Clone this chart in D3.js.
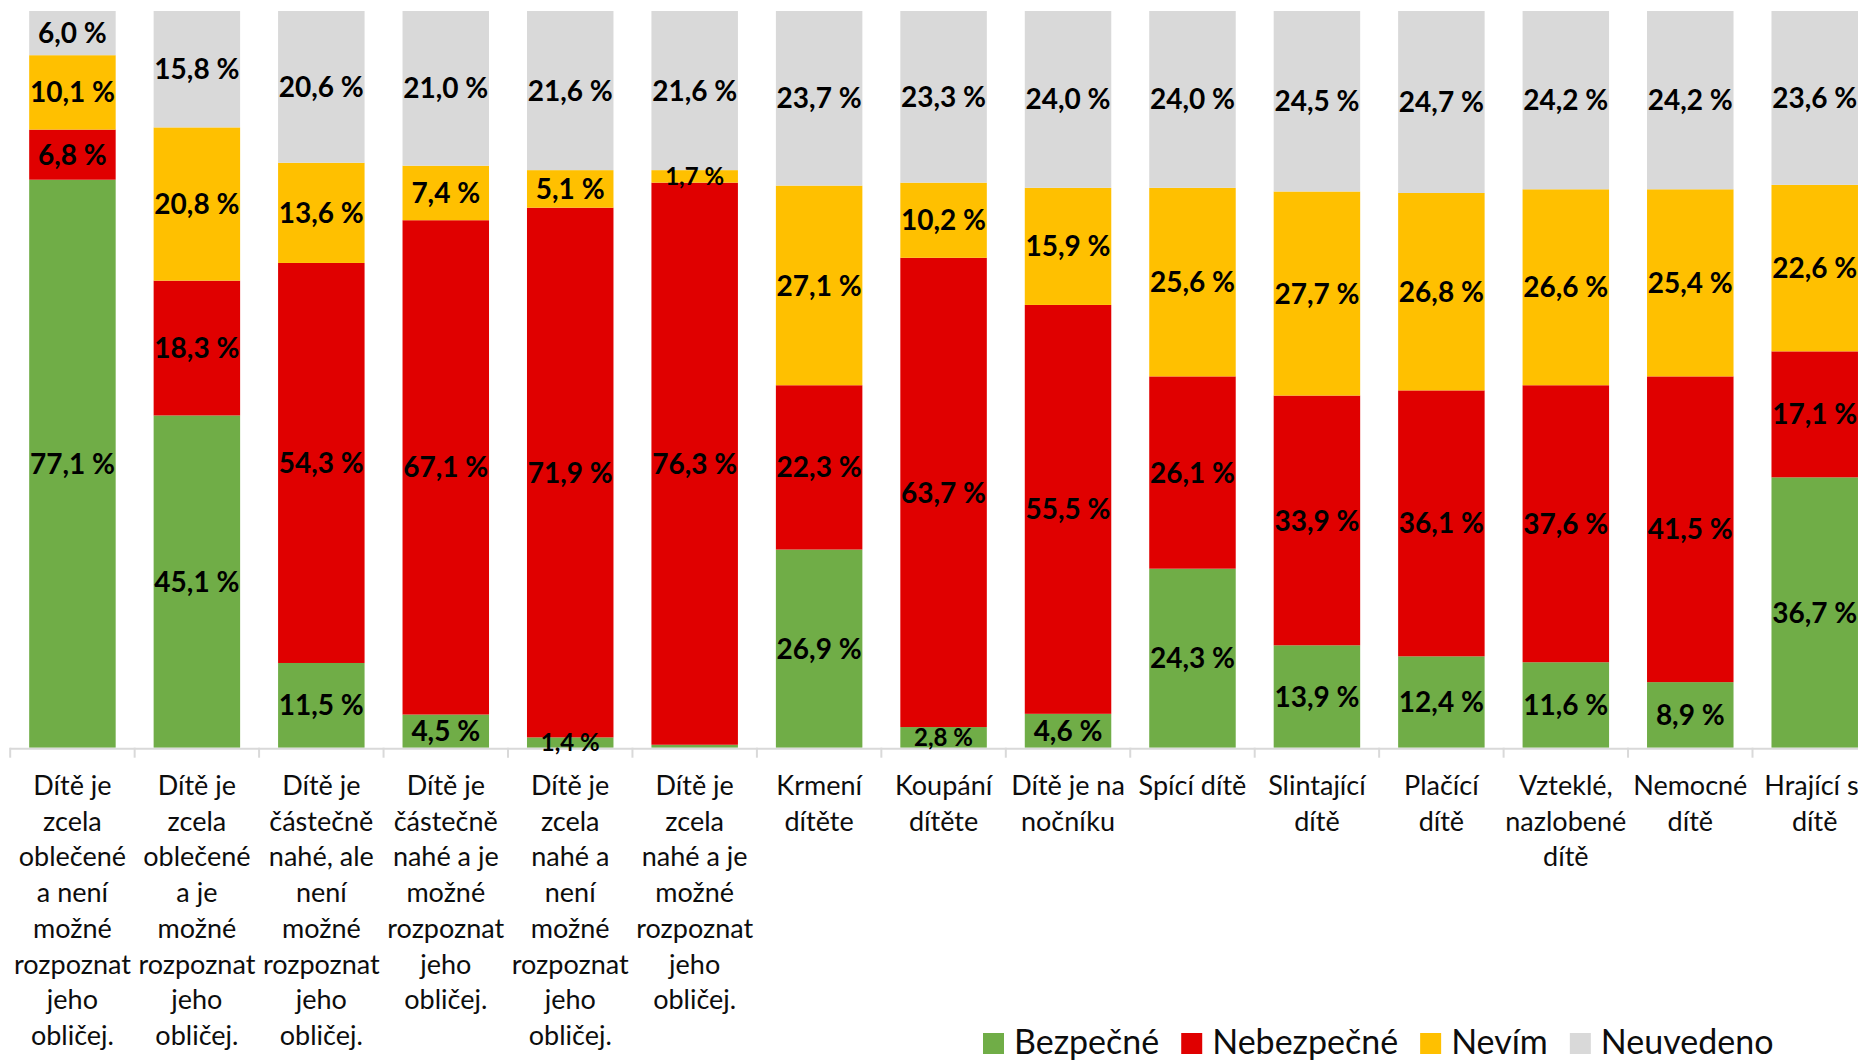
<!DOCTYPE html>
<html lang="cs">
<head>
    <meta charset="UTF-8">
    <title>Bezpečnost fotografií dětí</title>
    <script src="https://cdn.jsdelivr.net/npm/d3@7"></script>
    <style>
        html, body {
            margin: 0;
            padding: 0;
            width: 100%;
            height: 100%;
            overflow: hidden;
            background: #fff;
        }
        text { font-family: Lato, "Open Sans", sans-serif; }
    </style>
</head>
<body>
</body>
<script>
    let width = 1858;
    let height = 1061;

    // kategorie (řádky popisků jsou zalomené jako v originále)
    let categories = [
        ['Dítě je', 'zcela', 'oblečené', 'a není', 'možné', 'rozpoznat', 'jeho', 'obličej.'],
        ['Dítě je', 'zcela', 'oblečené', 'a je', 'možné', 'rozpoznat', 'jeho', 'obličej.'],
        ['Dítě je', 'částečně', 'nahé, ale', 'není', 'možné', 'rozpoznat', 'jeho', 'obličej.'],
        ['Dítě je', 'částečně', 'nahé a je', 'možné', 'rozpoznat', 'jeho', 'obličej.'],
        ['Dítě je', 'zcela', 'nahé a', 'není', 'možné', 'rozpoznat', 'jeho', 'obličej.'],
        ['Dítě je', 'zcela', 'nahé a je', 'možné', 'rozpoznat', 'jeho', 'obličej.'],
        ['Krmení', 'dítěte'],
        ['Koupání', 'dítěte'],
        ['Dítě je na', 'nočníku'],
        ['Spící dítě'],
        ['Slintající', 'dítě'],
        ['Plačící', 'dítě'],
        ['Vzteklé,', 'nazlobené', 'dítě'],
        ['Nemocné', 'dítě'],
        ['Hrající si', 'dítě']
    ];

    let seriesNames = ['Bezpečné', 'Nebezpečné', 'Nevím', 'Neuvedeno'];
    let bezpecne   = [77.1, 45.1, 11.5, 4.5, 1.4, 0.4, 26.9, 2.8, 4.6, 24.3, 13.9, 12.4, 11.6, 8.9, 36.7];
    let nebezpecne = [6.8, 18.3, 54.3, 67.1, 71.9, 76.3, 22.3, 63.7, 55.5, 26.1, 33.9, 36.1, 37.6, 41.5, 17.1];
    let nevim      = [10.1, 20.8, 13.6, 7.4, 5.1, 1.7, 27.1, 10.2, 15.9, 25.6, 27.7, 26.8, 26.6, 25.4, 22.6];
    let neuvedeno  = [6.0, 15.8, 20.6, 21.0, 21.6, 21.6, 23.7, 23.3, 24.0, 24.0, 24.5, 24.7, 24.2, 24.2, 23.6];

    let colors = ['#70ad47', '#e00000', '#ffc000', '#d9d9d9'];

    let keys = categories.map(c => c.join(' '));
    let rows = keys.map((k, i) => ({
        key: k,
        'Bezpečné': bezpecne[i],
        'Nebezpečné': nebezpecne[i],
        'Nevím': nevim[i],
        'Neuvedeno': neuvedeno[i]
    }));

    let stack = d3.stack().keys(seriesNames);
    let layers = stack(rows);

    // graf přesahuje vpravo za okraj, stejně jako v originále
    let x = d3.scaleBand()
        .domain(keys)
        .range([10.2, 10.2 + 15 * 124.45])
        .paddingInner(0.305)
        .paddingOuter(0.1525);

    let y = d3.scaleLinear()
        .domain([0, 100])
        .range([747.7, 11]);

    let svg = d3.select('body').append('svg')
        .attr('width', width)
        .attr('height', height);

    let gLayers = svg.append('g').selectAll('g')
        .data(layers)
        .enter().append('g')
        .attr('fill', (d, i) => colors[i]);

    gLayers.selectAll('rect')
        .data(d => d)
        .enter().append('rect')
        .attr('x', d => x(d.data.key))
        .attr('width', x.bandwidth())
        .attr('y', d => y(d[1]))
        .attr('height', d => y(d[0]) - y(d[1]));

    // osa x
    let step = x.step();
    let gAxis = svg.append('g');
    gAxis.append('line')
        .attr('x1', x.range()[0]).attr('x2', x.range()[1])
        .attr('y1', y(0) + 1).attr('y2', y(0) + 1)
        .attr('stroke', '#d9d9d9').attr('stroke-width', 2);
    gAxis.selectAll('line.tick')
        .data(d3.range(16))
        .enter().append('line')
        .classed('tick', true)
        .attr('x1', i => x.range()[0] + i * step)
        .attr('x2', i => x.range()[0] + i * step)
        .attr('y1', y(0)).attr('y2', y(0) + 10)
        .attr('stroke', '#d9d9d9').attr('stroke-width', 2);

    // popisky hodnot - až nad všemi sloupci
    let fmt = v => v.toFixed(1).replace('.', ',') + ' %';
    let labelData = [];
    layers.forEach(layer => layer.forEach(s => labelData.push({ s: s, v: s[1] - s[0] })));

    svg.append('g').selectAll('text')
        .data(labelData.filter(d => d.v >= 1))
        .enter().append('text')
        .attr('x', d => x(d.s.data.key) + x.bandwidth() / 2)
        .attr('y', d => (y(d.s[0]) + y(d.s[1])) / 2)
        .attr('dy', '0.36em')
        .attr('text-anchor', 'middle')
        .attr('fill', '#000')
        .attr('font-weight', 700)
        .attr('font-size', d => d.v < 3 ? 24 : 28)
        .text(d => fmt(d.v));

    // popisky kategorií
    let gCat = svg.append('g').selectAll('text')
        .data(categories)
        .enter().append('text')
        .attr('text-anchor', 'middle')
        .attr('font-size', 27)
        .attr('fill', '#0d0d0d')
        .attr('transform', (d, i) => `translate(${x(keys[i]) + x.bandwidth() / 2}, 795)`);

    gCat.selectAll('tspan')
        .data(d => d)
        .enter().append('tspan')
        .attr('x', 0)
        .attr('y', (d, i) => i * 35.7)
        .text(d => d);

    // legenda
    let legend = svg.append('g').attr('transform', 'translate(983, 1033)');
    let lx = 0;
    seriesNames.forEach((name, i) => {
        legend.append('rect')
            .attr('x', lx).attr('y', 0)
            .attr('width', 21).attr('height', 21)
            .attr('fill', colors[i]);
        let t = legend.append('text')
            .attr('x', lx + 31).attr('y', 21)
            .attr('font-size', 34)
            .attr('fill', '#0d0d0d')
            .text(name);
        lx += 31 + t.node().getComputedTextLength() + 22;
    });
</script>
</html>
